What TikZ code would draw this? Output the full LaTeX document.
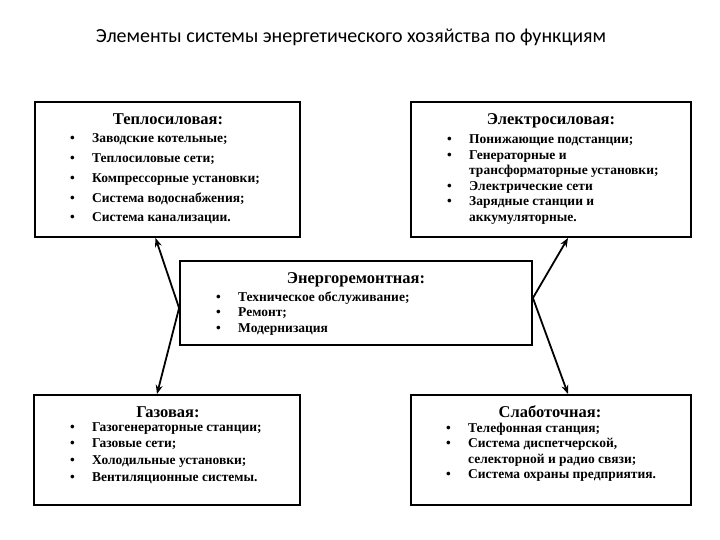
\documentclass[tikz,border=0pt]{standalone}
\usepackage{fontspec}
\setmainfont{Liberation Serif}
\newfontfamily\titlefont{Carlito}
\usepackage{xcolor}
\usetikzlibrary{arrows.meta}

% list of items in a box: bullet column + text column
\newcommand{\boxlist}[2]{%
  \fontsize{13.5}{#1}\selectfont\bfseries
  \begin{tabular}[t]{@{}p{22pt}@{}l@{}}#2\end{tabular}}
\newcommand{\bul}{\hspace*{0pt}\textbullet}

\begin{document}
\begin{tikzpicture}[x=1pt, y=-1pt,
  box/.style={rectangle, draw, line width=2pt, fill=white},
  head/.style={anchor=base, inner sep=0pt,
               font=\fontsize{16.5}{19}\selectfont\bfseries},
  lst/.style={anchor=base west, inner sep=0pt},
  arr/.style={-{Stealth[length=9pt, width=7pt]}, line width=1.8pt}
]
\useasboundingbox (0,0) rectangle (720,540);

%% ── TITLE ─────────────────────────────────────────────────────────────
\node[inner sep=0pt, font=\titlefont\fontsize{20}{24}\selectfont]
  at (351,37) (title) {Элементы системы энергетического хозяйства по функциям};

%% ── BOXES placed by absolute position ─────────────────────────────────
\node[box, minimum width=265pt, minimum height=135pt] at (167.5,169.5) (tep)  {};
\node[box, minimum width=280pt, minimum height=135pt] at (551,169.5)   (elec) {};
\node[box, minimum width=352pt, minimum height=84pt, line width=1.8pt]
  at (356,303) (rem) {};
\node[box, minimum width=266pt, minimum height=110pt] at (167,450)     (gas)  {};
\node[box, minimum width=280pt, minimum height=110pt] at (551,450)     (slab) {};

%% ── HEADINGS ──────────────────────────────────────────────────────────
\node[head] at (168,125) (teph)  {Теплосиловая:};
\node[head] at (551,125) (elech) {Электросиловая:};
\node[head] at (356,283) (remh)  {Энергоремонтная:};
\node[head] at (168,417) (gash)  {Газовая:};
\node[head] at (550,417) (slabh) {Слаботочная:};

%% ── ITEM LISTS ────────────────────────────────────────────────────────
\node[lst] at (70,143) (tepl) {\boxlist{19.7}{%
  \bul & Заводские котельные;\\
  \bul & Теплосиловые сети;\\
  \bul & Компрессорные установки;\\
  \bul & Система водоснабжения;\\
  \bul & Система канализации.}};
\node[lst] at (447,144) (elecl) {\boxlist{15.5}{%
  \bul & Понижающие подстанции;\\
  \bul & Генераторные и\\
       & трансформаторные установки;\\
  \bul & Электрические сети\\
  \bul & Зарядные станции и\\
       & аккумуляторные.}};
\node[lst] at (216,301) (reml) {\boxlist{15.5}{%
  \bul & Техническое обслуживание;\\
  \bul & Ремонт;\\
  \bul & Модернизация}};
\node[lst] at (70,431) (gasl) {\boxlist{16.7}{%
  \bul & Газогенераторные станции;\\
  \bul & Газовые сети;\\
  \bul & Холодильные установки;\\
  \bul & Вентиляционные  системы.}};
\node[lst] at (446,432) (slabl) {\boxlist{15.5}{%
  \bul & Телефонная станция;\\
  \bul & Система диспетчерской,\\
       & селекторной и радио связи;\\
  \bul & Система охраны предприятия.}};

%% ── ARROWS from the middle box ────────────────────────────────────────
\draw[arr] ([yshift=-5pt]rem.west) -- ([xshift=-12pt]tep.south);
\draw[arr] ([yshift=-5pt]rem.west) -- ([xshift=-10pt]gas.north);
\draw[arr] ([yshift=5pt]rem.east)  -- ([xshift=17pt]elec.south);
\draw[arr] ([yshift=5pt]rem.east)  -- ([xshift=17pt]slab.north);

\end{tikzpicture}
\end{document}
